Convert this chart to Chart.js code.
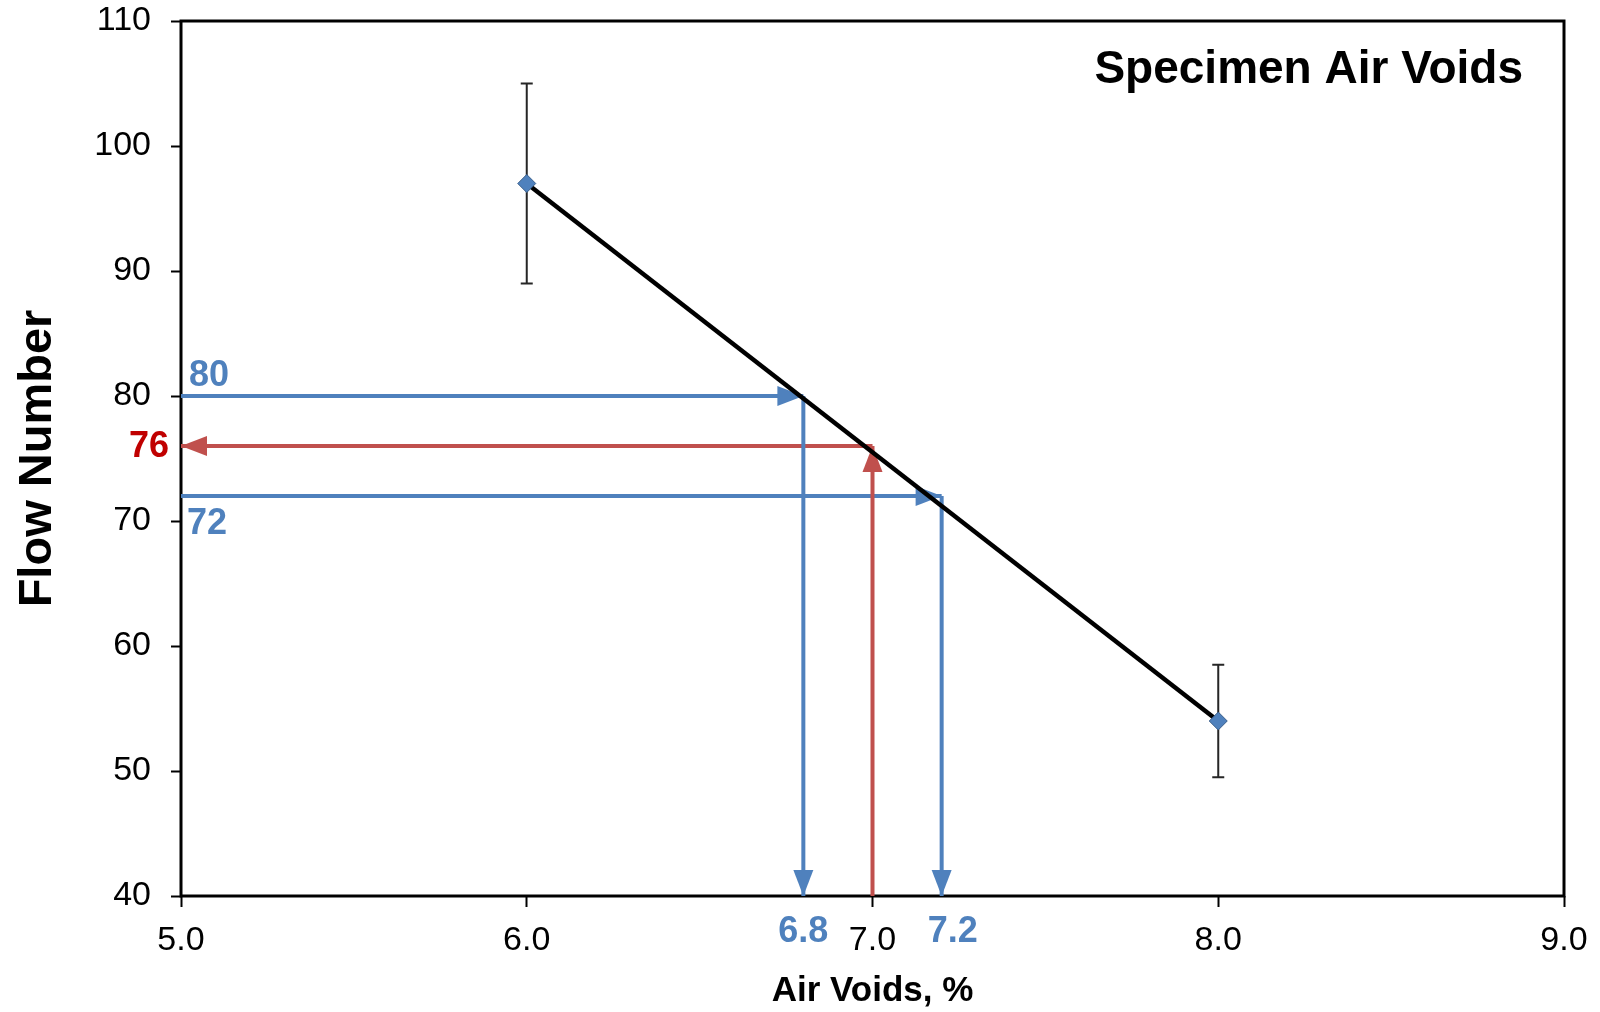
<!DOCTYPE html>
<html>
<head>
<meta charset="utf-8">
<script src="https://cdn.jsdelivr.net/npm/chart.js@4.4.1/dist/chart.umd.min.js"></script>
<style>
  html, body { margin: 0; padding: 0; background: #fff; }
  #wrap { width: 1600px; height: 1012px; }
</style>
</head>
<body>
<div id="wrap"><canvas id="chart"></canvas></div>
<script>
// measured specimens
const airVoids = [6.0, 8.0];
const flowNumber = [97, 54];
const flowLow = [89, 49.5];
const flowHigh = [105, 58.5];

// readings: blue, red, blue
const readVoids = [6.8, 7.0, 7.2];
const readFlow = [80, 76, 72];

const xTicks = [5, 6, 7, 8, 9];
const yTicks = [40, 50, 60, 70, 80, 90, 100, 110];

const BLUE = '#4F81BD';
const RED = '#C0504D';
const FONT = '"Liberation Sans", Arial, sans-serif';

const xMin = xTicks[0], xMax = xTicks[xTicks.length - 1];
const yMin = yTicks[0], yMax = yTicks[yTicks.length - 1];

// arrow segments, each ends in an arrowhead
function arrowSet(points, color) {
    return {
        type: 'line',
        data: points,
        borderColor: color,
        borderWidth: 4,
        pointRadius: 0,
        fill: false,
        arrow: true,
        order: 1
    };
}

const arrowSets = [];
readVoids.forEach(function (v, i) {
    const f = readFlow[i];
    if (i === 1) {
        arrowSets.push(arrowSet([{ x: v, y: yMin }, { x: v, y: f }], RED));
        arrowSets.push(arrowSet([{ x: v, y: f }, { x: xMin, y: f }], RED));
    } else {
        arrowSets.push(arrowSet([{ x: xMin, y: f }, { x: v, y: f }], BLUE));
        arrowSets.push(arrowSet([{ x: v, y: f }, { x: v, y: yMin }], BLUE));
    }
});

const framePlugin = {
    id: 'frame',
    beforeDatasetsDraw(chart) {
        const { ctx, chartArea: a, scales } = chart;
        ctx.save();
        ctx.strokeStyle = '#000';
        ctx.lineWidth = 3;
        ctx.strokeRect(a.left, a.top, a.right - a.left, a.bottom - a.top);

        // error bars
        ctx.strokeStyle = '#262626';
        ctx.lineWidth = 2;
        airVoids.forEach(function (v, i) {
            const x = scales.x.getPixelForValue(v);
            const y1 = scales.y.getPixelForValue(flowLow[i]);
            const y2 = scales.y.getPixelForValue(flowHigh[i]);
            ctx.beginPath();
            ctx.moveTo(x, y1); ctx.lineTo(x, y2);
            ctx.moveTo(x - 6, y1); ctx.lineTo(x + 6, y1);
            ctx.moveTo(x - 6, y2); ctx.lineTo(x + 6, y2);
            ctx.stroke();
        });
        ctx.restore();
    },
    afterDatasetDraw(chart, args) {
        const ds = chart.data.datasets[args.index];
        if (!ds.arrow) return;
        const pts = args.meta.data;
        const p0 = pts[pts.length - 2], p1 = pts[pts.length - 1];
        const ang = Math.atan2(p1.y - p0.y, p1.x - p0.x);
        const len = 26, half = 10;
        const ctx = chart.ctx;
        ctx.save();
        ctx.translate(p1.x, p1.y);
        ctx.rotate(ang);
        ctx.fillStyle = ds.borderColor;
        ctx.beginPath();
        ctx.moveTo(0, 0);
        ctx.lineTo(-len, -half);
        ctx.lineTo(-len, half);
        ctx.closePath();
        ctx.fill();
        ctx.restore();
    },
    afterDraw(chart) {
        const { ctx, chartArea: a, scales } = chart;
        const xs = scales.x, ys = scales.y;
        ctx.save();
        ctx.textBaseline = 'middle';
        ctx.font = 'bold 36px ' + FONT;

        ctx.fillStyle = BLUE;
        ctx.textAlign = 'left';
        ctx.fillText(String(readFlow[0]), a.left + 8, ys.getPixelForValue(readFlow[0]) - 20);
        ctx.fillText(String(readFlow[2]), a.left + 6, ys.getPixelForValue(readFlow[2]) + 28);

        ctx.textAlign = 'center';
        ctx.fillText(readVoids[0].toFixed(1), xs.getPixelForValue(readVoids[0]), a.bottom + 36);
        ctx.fillText(readVoids[2].toFixed(1), xs.getPixelForValue(readVoids[2]) + 11, a.bottom + 36);

        ctx.fillStyle = '#C00000';
        ctx.textAlign = 'right';
        ctx.fillText(String(readFlow[1]), a.left - 12, ys.getPixelForValue(readFlow[1]) + 1);

        ctx.fillStyle = '#000';
        ctx.font = 'bold 46px ' + FONT;
        ctx.textAlign = 'right';
        ctx.textBaseline = 'alphabetic';
        ctx.fillText('Specimen Air Voids', a.right - 41, a.top + 62);
        ctx.restore();
    }
};

new Chart(document.getElementById('chart'), {
    type: 'scatter',
    data: {
        datasets: [{
            type: 'line',
            data: airVoids.map((v, i) => ({ x: v, y: flowNumber[i] })),
            borderColor: '#000',
            borderWidth: 4.5,
            pointStyle: 'rectRot',
            pointRadius: 9,
            pointBackgroundColor: BLUE,
            pointBorderColor: '#385D8A',
            pointBorderWidth: 1,
            fill: false,
            order: 0
        }].concat(arrowSets)
    },
    plugins: [framePlugin],
    options: {
        responsive: true,
        maintainAspectRatio: false,
        animation: false,
        layout: { padding: { top: 21, right: 36, left: 0, bottom: 0 } },
        plugins: {
            legend: { display: false },
            tooltip: { enabled: false }
        },
        scales: {
            x: {
                type: 'linear',
                min: xMin,
                max: xMax,
                afterBuildTicks: (s) => { s.ticks = xTicks.map(v => ({ value: v })); },
                afterFit: (s) => { s.height = 116; s.paddingLeft = 0; s.paddingRight = 0; },
                grid: { drawOnChartArea: false, drawTicks: true, tickLength: 11, tickColor: '#000', tickWidth: 2 },
                border: { display: false },
                ticks: {
                    padding: 17,
                    color: '#000',
                    font: { family: FONT, size: 34, lineHeight: 1.0 },
                    callback: (v) => Number(v).toFixed(1),
                    maxRotation: 0,
                    autoSkip: false
                },
                title: {
                    display: true,
                    text: 'Air Voids, %',
                    color: '#000',
                    font: { family: FONT, size: 35, weight: 'bold', lineHeight: 1.2 },
                    padding: 0
                }
            },
            y: {
                type: 'linear',
                min: yMin,
                max: yMax,
                afterBuildTicks: (s) => { s.ticks = yTicks.map(v => ({ value: v })); },
                afterFit: (s) => { s.width = 181; s.paddingTop = 0; s.paddingBottom = 0; },
                grid: { drawOnChartArea: false, drawTicks: true, tickLength: 10, tickColor: '#000', tickWidth: 2 },
                border: { display: false },
                ticks: {
                    padding: 20,
                    color: '#000',
                    font: { family: FONT, size: 34, lineHeight: 1.0 },
                    autoSkip: false
                },
                title: {
                    display: true,
                    text: 'Flow Number',
                    color: '#000',
                    font: { family: FONT, size: 47, weight: 'bold', lineHeight: 1.2 },
                    padding: { top: 10, bottom: 0 }
                }
            }
        }
    }
});
</script>
</body>
</html>
